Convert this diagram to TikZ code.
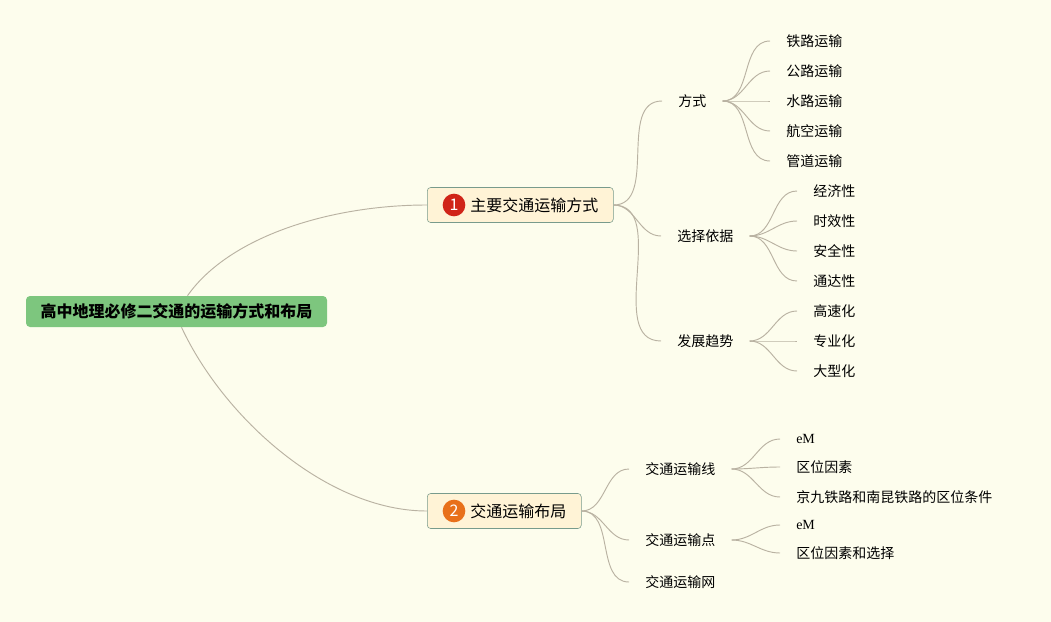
\documentclass[tikz,border=0pt]{standalone}
\usepackage{fontspec}
\setmainfont{Noto Sans CJK SC}
\newfontfamily\serifem{Liberation Serif}
\usetikzlibrary{calc}
\definecolor{paper}{RGB}{253,253,237}
\definecolor{rootgreen}{RGB}{125,198,126}
\definecolor{topicfill}{RGB}{255,243,214}
\definecolor{topicline}{RGB}{120,155,140}
\definecolor{linkgray}{RGB}{185,178,162}
\definecolor{badgered}{RGB}{208,36,24}
\definecolor{badgeorange}{RGB}{232,112,26}

\begin{document}
\begin{tikzpicture}[
    x=0.75pt, y=-0.75pt,
    font=\fontsize{10.5}{12}\selectfont,
    root/.style={fill=rootgreen, rounded corners=3pt, minimum width=225.75pt, minimum height=23.25pt, font=\fontsize{12}{14}\selectfont\bfseries},
    branch/.style={draw=topicline, fill=topicfill, rounded corners=2.5pt, anchor=west, minimum height=26.25pt, inner xsep=11.25pt, font=\fontsize{12}{14}\selectfont},
    badge/.style={circle, inner sep=0pt, minimum size=17pt, text=white, font=\fontsize{12}{12}\selectfont},
    topic/.style={anchor=west, inner xsep=12pt, inner ysep=2pt},
    link/.style={draw=linkgray, line width=0.7pt, out=0, in=180}
]
\fill[paper] (0,0) rectangle (1051,622);
\useasboundingbox (0,0) rectangle (1051,622);

\node[root] (root) at (176.5,311.5) {高中地理必修二交通的运输方式和布局};

\node[branch] (b1) at (427,205) {\hspace*{21pt}主要交通运输方式};
\node[badge, fill=badgered] (n1) at ($(b1.west)+(27,0)$) {1};
\node[branch] (b2) at (427,511) {\hspace*{21pt}交通运输布局};
\node[badge, fill=badgeorange] (n2) at ($(b2.west)+(27,0)$) {2};

\node[topic] (fs) at (662,101) {方式};
\node[topic] (xz) at (661,236) {选择依据};
\node[topic] (fz) at (661,341) {发展趋势};

\node[topic] (tl) at (770,41) {铁路运输};
\node[topic] (gl) at (770,71) {公路运输};
\node[topic] (sl) at (770,101) {水路运输};
\node[topic] (hk) at (770,131) {航空运输};
\node[topic] (gd) at (770,161) {管道运输};

\node[topic] (jj) at (797,191) {经济性};
\node[topic] (sx) at (797,221) {时效性};
\node[topic] (aq) at (797,251) {安全性};
\node[topic] (td) at (797,281) {通达性};

\node[topic] (gs) at (797,311) {高速化};
\node[topic] (zy) at (797,341) {专业化};
\node[topic] (dx) at (797,371) {大型化};

\node[topic] (xian) at (629,469) {交通运输线};
\node[topic] (dian) at (629,540) {交通运输点};
\node[topic] (wang) at (629,582) {交通运输网};

\node[topic] (em1) at (780,439) {\serifem eM};
\node[topic] (qw1) at (780,467) {区位因素};
\node[topic] (jk) at (780,497) {京九铁路和南昆铁路的区位条件};
\node[topic] (em2) at (780,525) {\serifem eM};
\node[topic] (qw2) at (780,553) {区位因素和选择};

\draw[link, out=55, out distance=54pt, in distance=73pt] ($(root.north)+(11,0)$) to (b1.west);
\draw[link, out=-65, out distance=75pt, in distance=75pt] ($(root.south)+(5,0)$) to (b2.west);

\draw[link] (b1.east) to (fs.west);
\draw[link] (b1.east) to (xz.west);
\draw[link] (b1.east) to (fz.west);

\draw[link] (fs.east) to (tl.west);
\draw[link] (fs.east) to (gl.west);
\draw[link] (fs.east) to (sl.west);
\draw[link] (fs.east) to (hk.west);
\draw[link] (fs.east) to (gd.west);

\draw[link] (xz.east) to (jj.west);
\draw[link] (xz.east) to (sx.west);
\draw[link] (xz.east) to (aq.west);
\draw[link] (xz.east) to (td.west);

\draw[link] (fz.east) to (gs.west);
\draw[link] (fz.east) to (zy.west);
\draw[link] (fz.east) to (dx.west);

\draw[link] (b2.east) to (xian.west);
\draw[link] (b2.east) to (dian.west);
\draw[link] (b2.east) to (wang.west);

\draw[link] (xian.east) to (em1.west);
\draw[link] (xian.east) to (qw1.west);
\draw[link] (xian.east) to (jk.west);

\draw[link] (dian.east) to (em2.west);
\draw[link] (dian.east) to (qw2.west);
\end{tikzpicture}
\end{document}
